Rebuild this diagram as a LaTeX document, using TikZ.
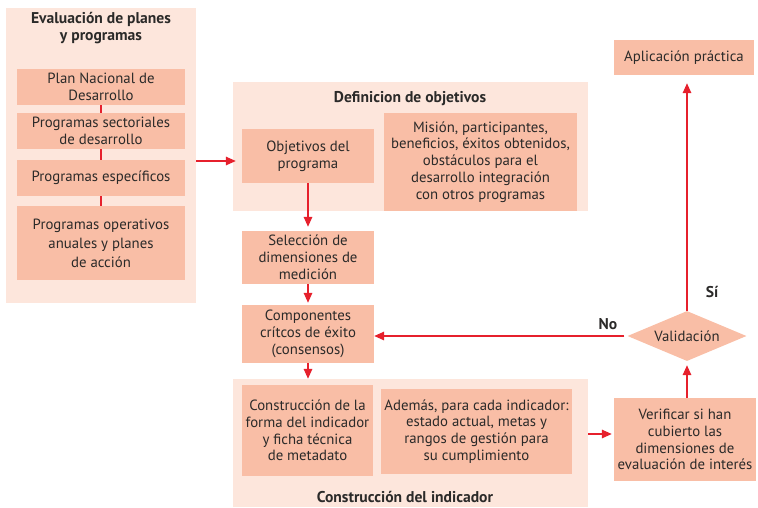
\documentclass[tikz,border=0pt]{standalone}
\usepackage{fontspec}
\setmainfont{PT Sans}
\usetikzlibrary{arrows.meta,shapes.geometric,positioning}
\definecolor{panel}{HTML}{FDE6DC}
\definecolor{boxfill}{HTML}{F9BEA6}
\definecolor{flow}{HTML}{E6202C}
\definecolor{ink}{HTML}{2B2A29}

\tikzset{
  panelbox/.style={fill=panel,inner sep=0pt},
  item/.style={fill=boxfill,inner sep=0pt,align=center,text=ink,
    font=\fontsize{14.8}{16.8}\selectfont},
  heading/.style={align=center,text=ink,font=\fontsize{15.6}{17}\selectfont\bfseries},
  flowline/.style={draw=flow,line width=1.5pt},
  flowarrow/.style={flowline,-{Triangle[length=10pt,width=8.5pt]}},
}

\begin{document}
\begin{tikzpicture}[x=1pt,y=-1pt]
    \useasboundingbox (0,0) rectangle (758,507);

    \path
    (101,155.5) node[panelbox,minimum width=190,minimum height=295] (evalpanel) {}
    (410.5,146.5) node[panelbox,minimum width=355,minimum height=129] (defpanel) {}
    (410.5,443) node[panelbox,minimum width=355,minimum height=128] (conspanel) {}
    ;

    \path
    (101,28.5) node[heading] (evaltitle) {Evaluación de planes\\y programas}
    (410,99) node[heading] (deftitle) {Definicion de objetivos}
    (405,497) node[heading] (constitle) {Construcción del indicador}
    ;

    \path
    (101,87) node[item,minimum width=168,minimum height=36] (plan) {Plan Nacional de\\Desarrollo}
    (101,131) node[item,minimum width=168,minimum height=36] (sector) {Programas sectoriales\\de desarrollo}
    (101,178) node[item,minimum width=168,minimum height=36] (espec) {Programas específicos}
    (101,243) node[item,minimum width=168,minimum height=74,
      font=\fontsize{14.8}{19}\selectfont] (operat) {Programas operativos\\anuales y planes\\de acción}
    ;

    \path
    (308,156) node[item,minimum width=132,minimum height=54] (objet) {Objetivos del\\programa}
    (480.5,162) node[item,minimum width=193,minimum height=98] (mision)
      {Misión, participantes,\\beneficios, éxitos obtenidos,\\obstáculos para el\\desarrollo integración\\con otros programas}
    (308,257.5) node[item,minimum width=132,minimum height=53] (selec) {Selección de\\dimensiones de\\medición}
    (308,334) node[item,minimum width=132,minimum height=58] (compon) {Componentes\\crítcos de éxito\\(consensos)}
    (307.5,430.5) node[item,minimum width=131,minimum height=91] (forma)
      {Construcción de la\\forma del indicador\\y ficha técnica\\de metadato}
    (476.5,431.5) node[item,minimum width=191,minimum height=85] (ademas)
      {Además, para cada indicador:\\estado actual, metas y\\rangos de gestión para\\su cumplimiento}
    (685,439.5) node[item,minimum width=142,minimum height=83] (verif)
      {Verificar si han\\cubierto las\\dimensiones de\\evaluación de interés}
    (684,57.5) node[item,minimum width=140,minimum height=35] (aplic) {Aplicación práctica}
    (687,336) node[item,diamond,aspect=2.38,minimum width=119,minimum height=50] (valid) {Validación}
    ;

    \path
    (712,292) node[heading] (si) {Sí}
    (608,324) node[heading] (no) {No}
    ;

    \coordinate (joina) at (0,161);
    \coordinate (joinb) at (0,434);

    \draw[flowline] (plan) -- (sector);
    \draw[flowline] (sector) -- (espec);
    \draw[flowline] (espec) -- (operat);
    \draw[flowarrow] (evalpanel.east |- joina) -- ([xshift=3pt]defpanel.west |- joina);
    \draw[flowarrow,shorten >=4pt] (objet) -- (selec);
    \draw[flowarrow,shorten >=2pt] (selec) -- (compon);
    \draw[flowarrow] (compon) -- (compon |- conspanel.north);
    \draw[flowarrow] (conspanel.east |- joinb) -- ([xshift=-2pt]verif.west |- joinb);
    \draw[flowarrow,shorten >=4pt] (valid.south |- verif.north) -- (valid.south);
    \draw[flowarrow,shorten >=8pt] (valid.north) -- (valid.north |- aplic.south);
    \draw[flowarrow,shorten <=3pt] (valid.west) -- (compon.east |- valid.west);
  \end{tikzpicture}
\end{document}
